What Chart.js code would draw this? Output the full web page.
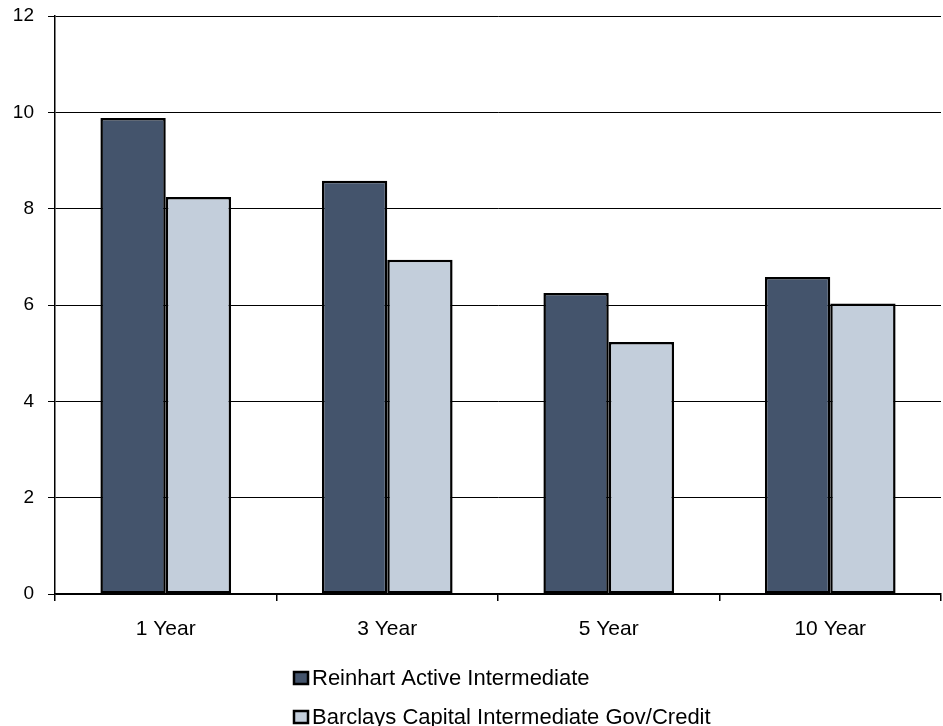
<!DOCTYPE html>
<html>
<head>
<meta charset="utf-8">
<script src="https://cdn.jsdelivr.net/npm/chart.js@4/dist/chart.umd.min.js"></script>
<style>
  html, body { margin: 0; padding: 0; background: #fff; }
  #wrap { width: 943px; height: 726px; }
</style>
</head>
<body>
<div id="wrap"><canvas id="chart" width="943" height="726"></canvas></div>
<script>
// data
const categories = ['1 Year', '3 Year', '5 Year', '10 Year'];
const reinhart = [9.88, 8.58, 6.25, 6.58];
const barclays = [8.24, 6.94, 5.23, 6.03];
const seriesNames = ['Reinhart Active Intermediate', 'Barclays Capital Intermediate Gov/Credit'];
const yTicks = [0, 2, 4, 6, 8, 10, 12];

const FONT = 'Arial, "Liberation Sans", sans-serif';

// legend drawn by hand, stacked one item per row
const stackedLegend = {
    id: 'stackedLegend',
    afterDraw(chart) {
        const ctx = chart.ctx;
        const base = chart.chartArea.bottom;
        ctx.save();
        ctx.font = '22px ' + FONT;
        ctx.textBaseline = 'middle';
        chart.data.datasets.forEach((ds, i) => {
            const y = base + 84 + i * 39;
            ctx.fillStyle = ds.backgroundColor;
            ctx.fillRect(294, y - 6, 14, 12);
            ctx.lineWidth = 2.5;
            ctx.strokeStyle = '#000';
            ctx.strokeRect(294, y - 6, 14, 12);
            ctx.fillStyle = '#000';
            ctx.fillText(ds.label, 312, y + 1);
        });
        ctx.restore();
    }
};

const config = {
    type: 'bar',
    data: {
        labels: categories,
        datasets: [
            {
                label: seriesNames[0],
                data: reinhart,
                backgroundColor: '#44546c',
                borderColor: '#000',
                borderWidth: 2.5,
                borderSkipped: false
            },
            {
                label: seriesNames[1],
                data: barclays,
                backgroundColor: '#c3cedb',
                borderColor: '#000',
                borderWidth: 2.5,
                borderSkipped: false
            }
        ]
    },
    options: {
        responsive: false,
        animation: false,
        layout: { padding: { top: 16, right: 2, left: 0, bottom: 72 } },
        datasets: { bar: { categoryPercentage: 0.59, barPercentage: 1 } },
        plugins: {
            legend: { display: false },
            tooltip: { enabled: false }
        },
        scales: {
            x: {
                afterFit(s) { s.height = 60; s.paddingLeft = 0; s.paddingRight = 0; },
                grid: {
                    drawOnChartArea: false,
                    drawTicks: true,
                    tickLength: 7,
                    color: '#000',
                    lineWidth: 1.5
                },
                border: { display: true, color: '#000', width: 1.5 },
                ticks: {
                    color: '#000',
                    font: { family: FONT, size: 21 },
                    padding: 16
                }
            },
            y: {
                min: 0,
                max: 12,
                afterFit(s) { s.width = 55; s.paddingTop = 0; s.paddingBottom = 0; },
                afterBuildTicks(s) { s.ticks = yTicks.map(v => ({ value: v })); },
                grid: {
                    color: '#000',
                    lineWidth: 1,
                    drawTicks: true,
                    tickLength: 7
                },
                border: { display: true, color: '#000', width: 1.5 },
                ticks: {
                    color: '#000',
                    font: { family: FONT, size: 19 },
                    padding: 14
                }
            }
        }
    },
    plugins: [stackedLegend]
};

const myChart = new Chart(document.getElementById('chart'), config);
</script>
</body>
</html>
